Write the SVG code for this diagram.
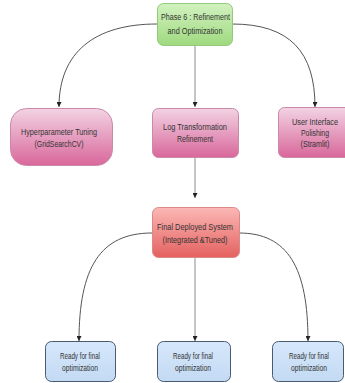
<svg xmlns="http://www.w3.org/2000/svg" width="345" height="383" viewBox="0 0 345 383">
  <defs>
    <linearGradient id="gGreen" x1="0" y1="0" x2="0" y2="1">
      <stop offset="0" stop-color="#d2f2c0"/>
      <stop offset="1" stop-color="#9fd97f"/>
    </linearGradient>
    <linearGradient id="gPink" x1="0" y1="0" x2="0" y2="1">
      <stop offset="0" stop-color="#f2d3e3"/>
      <stop offset="1" stop-color="#d9679b"/>
    </linearGradient>
    <linearGradient id="gRed" x1="0" y1="0" x2="0" y2="1">
      <stop offset="0" stop-color="#fbb8b6"/>
      <stop offset="1" stop-color="#e4615f"/>
    </linearGradient>
    <linearGradient id="gBlue" x1="0" y1="0" x2="0" y2="1">
      <stop offset="0" stop-color="#d6e7fa"/>
      <stop offset="1" stop-color="#c3daf4"/>
    </linearGradient>
    <marker id="arrow" viewBox="0 0 10 10" refX="10" refY="5" markerWidth="5" markerHeight="5" orient="auto" markerUnits="userSpaceOnUse">
      <path d="M0,0 L10,5 L0,10 Z" fill="#222"/>
    </marker>
  </defs>
  <style>
    text { font-family: "Liberation Sans", Arial, sans-serif; font-size: 8.5px; fill: #333; text-anchor: middle; }
    .green { fill: url(#gGreen); stroke: #93c97a; stroke-width: 1; }
    .pink { fill: url(#gPink); stroke: #c98aa8; stroke-width: 1; }
    .red { fill: url(#gRed); stroke: #d98a88; stroke-width: 1; }
    .blue { fill: url(#gBlue); stroke: #4a5a70; stroke-width: 1; }
    .curve { fill: none; stroke: #555; stroke-width: 1; }
    .stem { fill: none; stroke: #a8a8a8; stroke-width: 1.3; }
  </style>
  <rect width="345" height="383" fill="#ffffff"/>

  <g id="connectors">
    <path class="curve" d="M157,24 C95,24 59,52 59,107" marker-end="url(#arrow)"/>
    <path class="curve" d="M232,24 C290,24 315,52 315,107" marker-end="url(#arrow)"/>
    <path class="stem" d="M195,46 L195,107" marker-end="url(#arrow)"/>
    <path class="stem" d="M195,157 L195,198" marker-end="url(#arrow)"/>
    <path class="curve" d="M152,233 C100,233 79,268 79,341" marker-end="url(#arrow)"/>
    <path class="curve" d="M239,233 C288,233 308,268 308,341" marker-end="url(#arrow)"/>
    <path class="stem" d="M195,257 L195,341" marker-end="url(#arrow)"/>
  </g>

  <g id="phase6">
    <rect class="green" x="157.5" y="3.5" width="75" height="42" rx="6"/>
    <text x="195.5" y="20" textLength="69" lengthAdjust="spacingAndGlyphs">Phase 6 : Refinement</text>
    <text x="195" y="34" textLength="55" lengthAdjust="spacingAndGlyphs">and Optimization</text>
  </g>

  <g id="hyperparameter">
    <rect class="pink" x="10.5" y="108.5" width="102" height="57" rx="16"/>
    <text x="59" y="135" textLength="76" lengthAdjust="spacingAndGlyphs">Hyperparameter Tuning</text>
    <text x="59" y="147" textLength="49" lengthAdjust="spacingAndGlyphs">(GridSearchCV)</text>
  </g>

  <g id="logtransform">
    <rect class="pink" x="152.5" y="108.5" width="86" height="49" rx="6"/>
    <text x="195" y="130" textLength="64" lengthAdjust="spacingAndGlyphs">Log Transformation</text>
    <text x="195" y="142" textLength="36" lengthAdjust="spacingAndGlyphs">Refinement</text>
  </g>

  <g id="ui-polishing">
    <rect class="pink" x="278.5" y="107.5" width="74" height="50" rx="6"/>
    <text x="315" y="125" textLength="46" lengthAdjust="spacingAndGlyphs">User Interface</text>
    <text x="315" y="136" textLength="28" lengthAdjust="spacingAndGlyphs">Polishing</text>
    <text x="315" y="147" textLength="29" lengthAdjust="spacingAndGlyphs">(Stramlit)</text>
  </g>

  <g id="final-system">
    <rect class="red" x="152.5" y="207.5" width="87" height="50" rx="6"/>
    <text x="195" y="230" textLength="76" lengthAdjust="spacingAndGlyphs">Final Deployed System</text>
    <text x="195" y="243" textLength="65" lengthAdjust="spacingAndGlyphs">(Integrated &amp;Tuned)</text>
  </g>

  <g id="ready-left">
    <rect class="blue" x="45.5" y="341.5" width="70" height="40" rx="6"/>
    <text x="80" y="359" textLength="40" lengthAdjust="spacingAndGlyphs">Ready for final</text>
    <text x="80" y="371" textLength="36" lengthAdjust="spacingAndGlyphs">optimization</text>
  </g>

  <g id="ready-middle">
    <rect class="blue" x="157.5" y="341.5" width="73" height="40" rx="6"/>
    <text x="193" y="359" textLength="40" lengthAdjust="spacingAndGlyphs">Ready for final</text>
    <text x="193" y="371" textLength="36" lengthAdjust="spacingAndGlyphs">optimization</text>
  </g>

  <g id="ready-right">
    <rect class="blue" x="272.5" y="341.5" width="71" height="40" rx="6"/>
    <text x="309" y="359" textLength="40" lengthAdjust="spacingAndGlyphs">Ready for final</text>
    <text x="309" y="371" textLength="36" lengthAdjust="spacingAndGlyphs">optimization</text>
  </g>
</svg>
